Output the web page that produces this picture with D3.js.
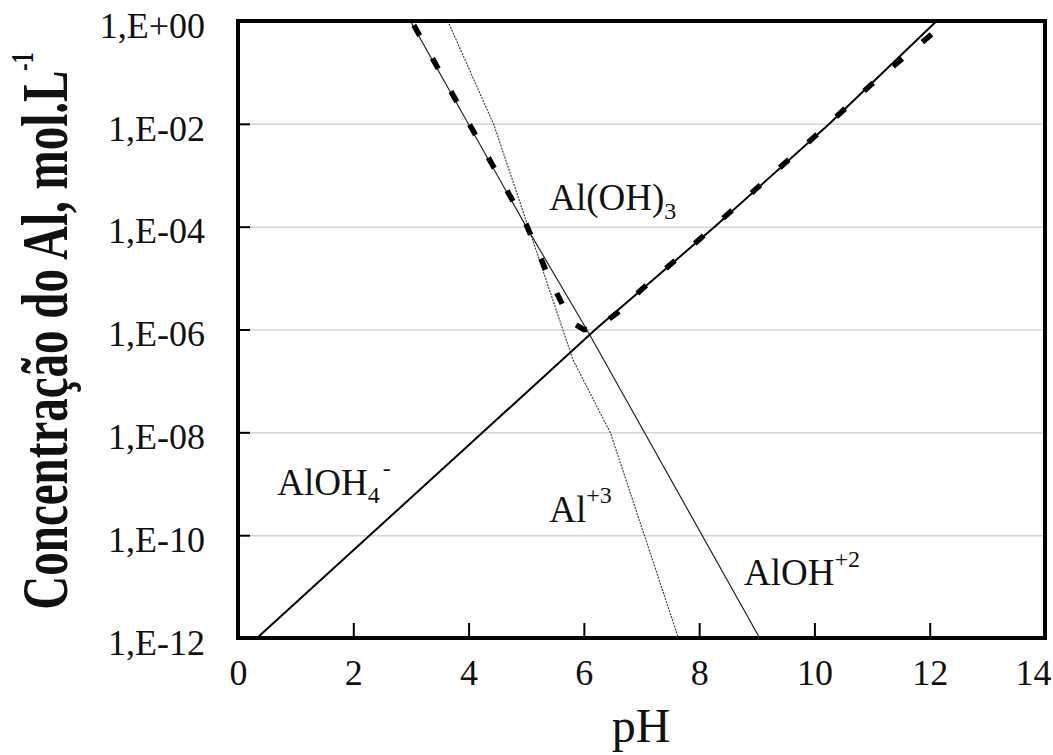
<!DOCTYPE html>
<html>
<head>
<meta charset="utf-8">
<script src="https://cdn.jsdelivr.net/npm/d3@7"></script>
<style>
body { margin: 0; background: #fff; }
svg { display: block; }
text { font-family: "Liberation Serif", "Times New Roman", serif; fill: #111; }
</style>
</head>
<body>
<svg id="chart" width="1053" height="755"></svg>
<script>
// tick values
var phTicks = [0, 2, 4, 6, 8, 10, 12, 14];
var concTicks = [1, 1e-2, 1e-4, 1e-6, 1e-8, 1e-10, 1e-12];

// Al+3 (dotted thin)
var al3PH = [3.64, 4.44, 5.81, 6.46, 7.64];
var al3Conc = [1, 9.5e-3, 2.6e-7, 9.8e-9, 1e-12];

// AlOH+2 (thin solid)
var aloh2PH = [2.99, 5.0, 6.05, 9.05];
var aloh2Conc = [1, 1e-4, 1e-6, 1e-12];

// AlOH4- (solid)
var aloh4PH = [0.33, 4.0, 6.2, 8.27, 10.26, 12.12];
var aloh4Conc = [1e-12, 5.6e-9, 1e-6, 1e-4, 1e-2, 1];

// Al(OH)3 solubility (thick dashed)
var totalPH = [3.05, 4.0, 5.0, 5.4, 5.78, 6.0, 6.2, 6.6, 7, 8, 9, 10, 11, 12.15];
var totalConc = [0.83, 1.05e-2, 1.1e-4, 1e-5, 1.4e-6, 1e-6, 1e-6, 2.2e-6, 6e-6, 5.6e-5, 5.6e-4, 5.6e-3, 6e-2, 0.71];

var svg = d3.select("#chart");
var pLeft = 238, pRight = 1045, pTop = 21, pBottom = 638;

var x = d3.scaleLinear().domain([0, 14]).range([pLeft, pRight]);
var y = d3.scaleLog().domain([1e-12, 1]).range([pBottom, pTop]);

var fmt = function(d) {
    var e = Math.round(Math.log10(d));
    return "1,E" + (e >= 0 ? "+" : "-") + (Math.abs(e) < 10 ? "0" : "") + Math.abs(e);
};

svg.append("clipPath").attr("id", "plot")
    .append("rect").attr("x", pLeft).attr("y", pTop)
    .attr("width", pRight - pLeft).attr("height", pBottom - pTop);

// gridlines
svg.append("g")
    .attr("transform", "translate(" + pLeft + ",0)")
    .call(d3.axisLeft(y).tickValues(concTicks.slice(1, -1)).tickSize(-(pRight - pLeft)).tickFormat(""))
    .call(function(g) {
        g.select(".domain").remove();
        g.selectAll("line").attr("stroke", "#d4d4d4").attr("stroke-width", 1.5);
    });

// y axis
svg.append("g")
    .attr("transform", "translate(" + pLeft + ",0)")
    .call(d3.axisLeft(y).tickValues(concTicks).tickSizeInner(-12).tickSizeOuter(0).tickPadding(33).tickFormat(fmt))
    .call(function(g) {
        g.select(".domain").remove();
        g.selectAll("line").attr("stroke", "#000").attr("stroke-width", 2);
        g.selectAll("text").attr("font-size", 36).attr("fill", "#111").attr("dy", "0.45em")
            .style("font-family", "'Liberation Serif', serif");
    });

// x axis
svg.append("g")
    .attr("transform", "translate(0," + pBottom + ")")
    .call(d3.axisBottom(x).tickValues(phTicks).tickSizeInner(-15).tickSizeOuter(0).tickPadding(21).tickFormat(d3.format("d")))
    .call(function(g) {
        g.select(".domain").remove();
        g.selectAll("line").attr("stroke", "#000").attr("stroke-width", 2);
        g.selectAll("text").attr("font-size", 36).attr("fill", "#111")
            .style("font-family", "'Liberation Serif', serif")
            .attr("dx", function(d) { return d === 14 ? -12 : 0; });
    });

// lines
var line = d3.line().x(function(d) { return x(d[0]); }).y(function(d) { return y(d[1]); });
var plot = svg.append("g").attr("clip-path", "url(#plot)");

plot.append("path").datum(d3.zip(al3PH, al3Conc)).attr("d", line)
    .attr("fill", "none").attr("stroke", "#333").attr("stroke-width", 1.1).attr("stroke-dasharray", "2,1.2");
plot.append("path").datum(d3.zip(aloh2PH, aloh2Conc)).attr("d", line)
    .attr("fill", "none").attr("stroke", "#222").attr("stroke-width", 1.2);
plot.append("path").datum(d3.zip(aloh4PH, aloh4Conc)).attr("d", line)
    .attr("fill", "none").attr("stroke", "#000").attr("stroke-width", 2);
plot.append("path").datum(d3.zip(totalPH, totalConc)).attr("d", line)
    .attr("fill", "none").attr("stroke", "#000").attr("stroke-width", 5.5).attr("stroke-dasharray", "12,26");

// frame
svg.append("rect").attr("x", pLeft).attr("y", pTop)
    .attr("width", pRight - pLeft).attr("height", pBottom - pTop)
    .attr("fill", "none").attr("stroke", "#000").attr("stroke-width", 4);

// species labels
function label(ph, logc, parts) {
    var t = svg.append("text").attr("x", x(ph)).attr("y", y(Math.pow(10, logc))).attr("font-size", 37);
    parts.forEach(function(p) {
        var s = t.append("tspan").text(p[0]);
        if (p[1]) s.attr("dy", p[1]).attr("font-size", 24);
        if (p[2] !== undefined) s.attr("dx", p[2]);
    });
}
label(5.40, -3.68, [["Al(OH)"], ["3", 9]]);
label(0.68, -9.22, [["AlOH"], ["4", 8], ["-", -27, 3]]);
label(5.40, -9.74, [["Al"], ["+3", -19]]);
label(8.78, -10.97, [["AlOH"], ["+2", -18]]);

// axis titles
svg.append("text").attr("x", 641).attr("y", 742).attr("text-anchor", "middle")
    .attr("font-size", 48).text("pH");

var yt = svg.append("text")
    .attr("transform", "translate(67,331) rotate(-90) scale(1,1.4)")
    .attr("text-anchor", "middle").attr("font-size", 47).attr("font-weight", "bold");
yt.append("tspan").text("Concentração do Al, mol.L");
yt.append("tspan").attr("dy", -24).attr("font-size", 22).text("-1");
</script>
</body>
</html>
